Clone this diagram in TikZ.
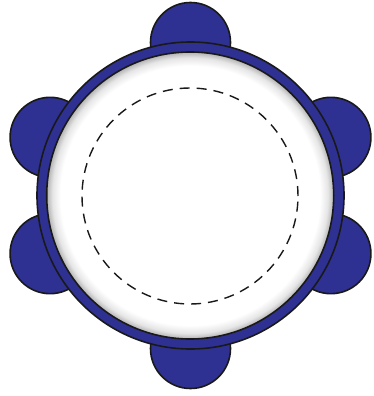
\documentclass[tikz,border=0pt]{standalone}
\definecolor{ringblue}{HTML}{2E3192}
\pgfdeclareradialshading{rimshade}{\pgfpoint{0bp}{0bp}}{color(0bp)=(white); color(22.6bp)=(white); color(24bp)=(black!10); color(25bp)=(black!30); color(50bp)=(black!30)}
\begin{document}
\begin{tikzpicture}[x=1pt,y=-1pt,
  lobe/.style={circle, draw=black!90, line width=1.6pt, fill=ringblue, minimum size=80pt, inner sep=0pt},
  ringstyle/.style={circle, draw=black!90, line width=1.6pt, fill=ringblue, minimum size=307pt, inner sep=0pt},
  disk/.style={circle, draw=black!90, line width=1.6pt, shading=rimshade, minimum size=287pt, inner sep=0pt},
  dashring/.style={circle, draw=black!90, line width=1.4pt, dash pattern=on 10pt off 7pt, minimum size=216pt, inner sep=0pt}]
\useasboundingbox (0,0) rectangle (373,396);
\coordinate (c) at (190.5,195.5);
\node[lobe] (lobeT) at ([shift={(90:153)}]c) {};
\node[lobe] (lobeB) at ([shift={(270:153)}]c) {};
\node[lobe] (lobeLU) at ([shift={(157.5:152)}]c) {};
\node[lobe] (lobeLD) at ([shift={(202.5:152)}]c) {};
\node[lobe] (lobeRU) at ([shift={(22.5:152)}]c) {};
\node[lobe] (lobeRD) at ([shift={(-22.5:152)}]c) {};
\node[ringstyle] (ring) at (c) {};
\node[disk] (head) at (190.2,195.5) {};
\node[dashring] (dash) at (190,196) {};
\end{tikzpicture}
\end{document}
